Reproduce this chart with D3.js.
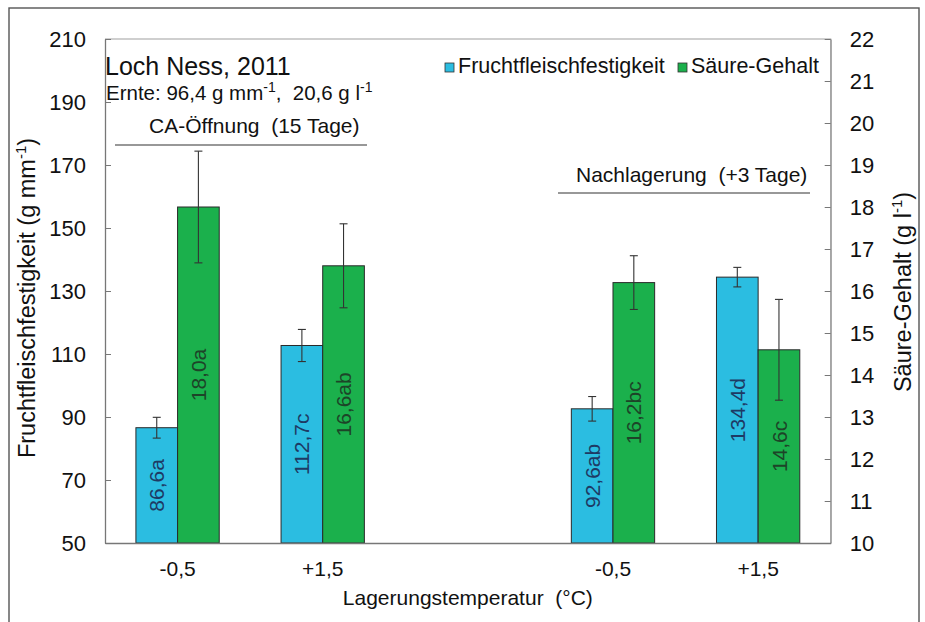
<!DOCTYPE html>
<html>
<head>
<meta charset="utf-8">
<script src="https://cdn.jsdelivr.net/npm/d3@7/dist/d3.min.js"></script>
<style>
  html, body { margin: 0; padding: 0; background: #fff; }
  svg { display: block; font-family: "Liberation Sans", Arial, sans-serif; }
  text { white-space: pre; }
</style>
</head>
<body>
<svg id="chart" width="925" height="622"></svg>
<script>
// Storage temperature categories (middle slot separates the two storage phases)
const tempLabels = ["-0,5", "+1,5", "", "-0,5", "+1,5"];

// Fruchtfleischfestigkeit (g mm-1), left axis
const festigkeit = [86.6, 112.7, null, 92.6, 134.4];
const festigkeitErr = [3.3, 5.1, null, 3.9, 3.1];
const festigkeitLabels = ["86,6a", "112,7c", null, "92,6ab", "134,4d"];

// Säure-Gehalt (g l-1), right axis
const saeure = [18.0, 16.6, null, 16.2, 14.6];
const saeureErr = [1.33, 1.0, null, 0.64, 1.2];
const saeureLabels = ["18,0a", "16,6ab", null, "16,2bc", "14,6c"];

// Axis ticks
const leftTicks = [50, 70, 90, 110, 130, 150, 170, 190, 210];
const rightTicks = [10, 11, 12, 13, 14, 15, 16, 17, 18, 19, 20, 21, 22];

const seriesNames = ["Fruchtfleischfestigkeit", "Säure-Gehalt"];
const colors = { blue: "#2bbde1", green: "#1bb04c" };

const svg = d3.select("#chart");
const plot = { left: 105, right: 830.7, top: 39, bottom: 543 };

// outer frame
svg.append("rect")
  .attr("x", 9).attr("y", 8).attr("width", 910).attr("height", 640)
  .attr("fill", "none").attr("stroke", "#555").attr("stroke-width", 1.4);

const x = d3.scaleBand()
  .domain(d3.range(tempLabels.length))
  .range([plot.left, plot.right])
  .paddingInner(0).paddingOuter(0);

const yL = d3.scaleLinear().domain([50, 210]).range([plot.bottom, plot.top]);
const yR = d3.scaleLinear().domain([10, 22]).range([plot.bottom, plot.top]);

const barW = x.bandwidth() * 0.287;

// plot area border (top and right)
svg.append("path")
  .attr("d", `M${plot.left},${plot.top}H${plot.right}V${plot.bottom}`)
  .attr("fill", "none").attr("stroke", "#a0a0a0").attr("stroke-width", 1.2);

// rows of data
const rows = tempLabels.map((t, i) => ({
  i, t,
  f: festigkeit[i], fe: festigkeitErr[i], fl: festigkeitLabels[i],
  s: saeure[i], se: saeureErr[i], sl: saeureLabels[i]
})).filter(d => d.f !== null);

const cx = i => x(i) + x.bandwidth() / 2;

// bars
const gBars = svg.append("g");
gBars.selectAll("rect.f").data(rows).join("rect")
  .attr("class", "f")
  .attr("x", d => cx(d.i) - barW).attr("width", barW)
  .attr("y", d => yL(d.f)).attr("height", d => yL(50) - yL(d.f))
  .attr("fill", colors.blue).attr("stroke", "#2a2a2a").attr("stroke-width", 1);

gBars.selectAll("rect.s").data(rows).join("rect")
  .attr("class", "s")
  .attr("x", d => cx(d.i)).attr("width", barW)
  .attr("y", d => yR(d.s)).attr("height", d => yR(10) - yR(d.s))
  .attr("fill", colors.green).attr("stroke", "#2a2a2a").attr("stroke-width", 1);

// error bars
function errorBar(g, xc, yTop, yBot) {
  const cap = 4;
  g.append("line").attr("x1", xc).attr("x2", xc).attr("y1", yTop).attr("y2", yBot);
  g.append("line").attr("x1", xc - cap).attr("x2", xc + cap).attr("y1", yTop).attr("y2", yTop);
  g.append("line").attr("x1", xc - cap).attr("x2", xc + cap).attr("y1", yBot).attr("y2", yBot);
}
const gErr = svg.append("g").attr("stroke", "#333").attr("stroke-width", 1.1);
rows.forEach(d => {
  errorBar(gErr, cx(d.i) - barW / 2, yL(d.f + d.fe), yL(d.f - d.fe));
  errorBar(gErr, cx(d.i) + barW / 2, yR(d.s + d.se), yR(d.s - d.se));
});

// value labels inside the bars
const gLab = svg.append("g").attr("font-size", 21).attr("text-anchor", "middle");
rows.forEach(d => {
  const xf = cx(d.i) - barW / 2, ymf = (yL(d.f) + yL(50)) / 2;
  gLab.append("text")
    .attr("transform", `translate(${xf},${ymf}) rotate(-90)`)
    .attr("dy", "0.36em").attr("fill", "#1e3a64").text(d.fl);
  const xs = cx(d.i) + barW / 2, yms = (yR(d.s) + yR(10)) / 2;
  gLab.append("text")
    .attr("transform", `translate(${xs},${yms}) rotate(-90)`)
    .attr("dy", "0.36em").attr("fill", "#1d4428").text(d.sl);
});

// axes
const axisL = svg.append("g").attr("transform", `translate(${plot.left},0)`)
  .call(d3.axisLeft(yL).tickValues(leftTicks).tickSize(-6).tickSizeOuter(0).tickPadding(19));
const axisR = svg.append("g").attr("transform", `translate(${plot.right},0)`)
  .call(d3.axisRight(yR).tickValues(rightTicks).tickSize(-6).tickSizeOuter(0).tickPadding(19));
const axisB = svg.append("g").attr("transform", `translate(0,${plot.bottom})`)
  .call(d3.axisBottom(x).tickFormat(i => tempLabels[i]).tickSize(0).tickSizeOuter(0).tickPadding(18));

[axisL, axisR, axisB].forEach(a => {
  a.attr("font-family", null).attr("font-size", null);
  a.selectAll("text").attr("font-size", 22).attr("fill", "#111");
  a.selectAll("line").attr("stroke", "#777");
  a.select(".domain").attr("stroke", "#777").attr("stroke-width", 1.3);
});
axisB.selectAll("text").attr("font-size", 21);
axisR.select(".domain").attr("stroke", "#a0a0a0");

// axis titles
svg.append("text")
  .attr("x", (plot.left + plot.right) / 2).attr("y", 605)
  .attr("text-anchor", "middle").attr("font-size", 21).attr("fill", "#111")
  .text("Lagerungstemperatur  (°C)");

function unitTitle(sel, main, unit, tail) {
  sel.append("tspan").text(main);
  sel.append("tspan").attr("dy", -9).attr("font-size", 15).text(unit);
  sel.append("tspan").attr("dy", 9).text(tail);
}

const tL = svg.append("text")
  .attr("transform", `translate(35,298) rotate(-90)`)
  .attr("text-anchor", "middle").attr("font-size", 23.5).attr("fill", "#111");
unitTitle(tL, "Fruchtfleischfestigkeit (g mm", "-1", ")");

const tR = svg.append("text")
  .attr("transform", `translate(911,292) rotate(-90)`)
  .attr("text-anchor", "middle").attr("font-size", 23.5).attr("fill", "#111");
unitTitle(tR, "Säure-Gehalt (g l", "-1", ")");

// heading
svg.append("text").attr("x", 105).attr("y", 75)
  .attr("font-size", 25).attr("fill", "#111").text("Loch Ness, 2011");

const ernte = svg.append("text").attr("x", 106).attr("y", 100)
  .attr("font-size", 20.5).attr("fill", "#111");
ernte.append("tspan").text("Ernte: 96,4 g mm");
ernte.append("tspan").attr("dy", -8).attr("font-size", 14).text("-1");
ernte.append("tspan").attr("dy", 8).text(",  20,6 g l");
ernte.append("tspan").attr("dy", -8).attr("font-size", 14).text("-1");

// storage phase brackets
svg.append("text").attr("x", 149).attr("y", 133)
  .attr("font-size", 21).attr("fill", "#111").text("CA-Öffnung  (15 Tage)");
svg.append("line").attr("x1", 115).attr("x2", 367).attr("y1", 145).attr("y2", 145)
  .attr("stroke", "#333").attr("stroke-width", 1.2);

svg.append("text").attr("x", 576).attr("y", 182)
  .attr("font-size", 21).attr("fill", "#111").text("Nachlagerung  (+3 Tage)");
svg.append("line").attr("x1", 558).attr("x2", 810).attr("y1", 193).attr("y2", 193)
  .attr("stroke", "#333").attr("stroke-width", 1.2);

// legend
const legend = [
  { name: seriesNames[0], color: colors.blue, x: 445 },
  { name: seriesNames[1], color: colors.green, x: 678 }
];
const gLeg = svg.append("g");
legend.forEach(l => {
  gLeg.append("rect").attr("x", l.x).attr("y", 63).attr("width", 9).attr("height", 9)
    .attr("fill", l.color).attr("stroke", "#333").attr("stroke-width", 0.8);
  gLeg.append("text").attr("x", l.x + 13).attr("y", 73)
    .attr("font-size", 21.5).attr("fill", "#111").text(l.name);
});
</script>
</body>
</html>
